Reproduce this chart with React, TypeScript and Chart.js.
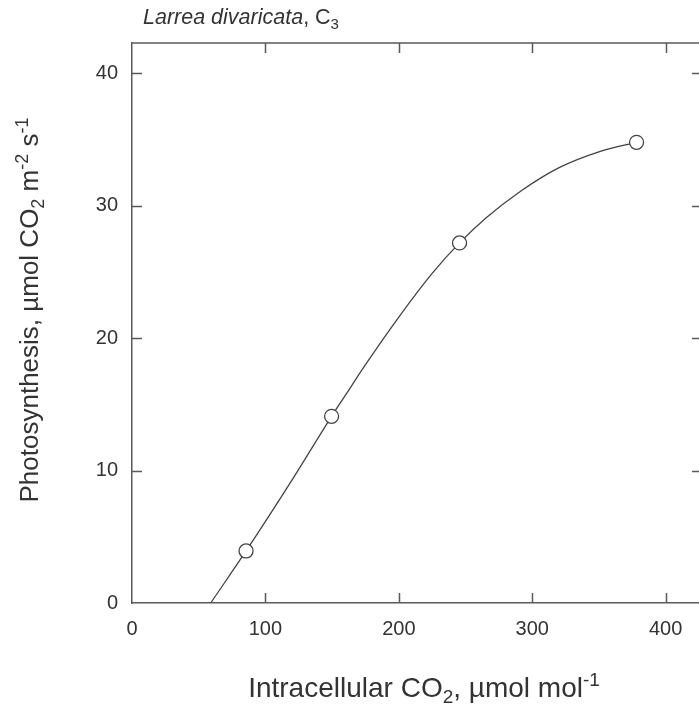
import React, { useEffect, useRef } from "react";
import { Chart, registerables } from "chart.js";

Chart.register(...registerables);

// Measured points (open circles)
const pointX = [85.5, 149.6, 245.5, 378.2];
const pointY = [3.93, 14.1, 27.2, 34.8];

// Fitted curve drawn through the data
const curveX = [59, 85.5, 120, 149.6, 160, 175, 200, 225, 245.5, 265.5, 290.5, 320.5, 350.5, 378.2];
const curveY = [0, 3.93, 9.3, 14.1, 15.7, 18.0, 21.6, 24.9, 27.2, 29.1, 31.05, 32.9, 34.1, 34.8];

const xTicks = [0, 100, 200, 300, 400];
const yTicks = [0, 10, 20, 30, 40];

const X_MIN = 0;
const X_MAX = 425;
const Y_MIN = 0;
const Y_MAX = 42.3;

const FONT = '"Liberation Sans", Arial, Helvetica, sans-serif';
const TEXT = "#333333";
const AXIS = "#5a5a5a";

type Seg = { t: string; m?: "sub" | "sup"; i?: boolean };

function segFont(s: Seg, size: number) {
  const sz = s.m ? Math.round(size * 0.68) : size;
  return `${s.i ? "italic " : ""}${sz}px ${FONT}`;
}

function drawRich(
  ctx: CanvasRenderingContext2D,
  segs: Seg[],
  x: number,
  y: number,
  size: number,
  align: "left" | "center",
  rotate = 0
) {
  ctx.save();
  ctx.translate(x, y);
  if (rotate) ctx.rotate(rotate);
  ctx.fillStyle = TEXT;
  ctx.textBaseline = "alphabetic";
  ctx.textAlign = "left";
  let total = 0;
  for (const s of segs) {
    ctx.font = segFont(s, size);
    total += ctx.measureText(s.t).width;
  }
  let cx = align === "center" ? -total / 2 : 0;
  for (const s of segs) {
    ctx.font = segFont(s, size);
    const dy = s.m === "sub" ? size * 0.22 : s.m === "sup" ? -size * 0.4 : 0;
    ctx.fillText(s.t, cx, dy);
    cx += ctx.measureText(s.t).width;
  }
  ctx.restore();
}

const framePlugin = {
  id: "framePlugin",
  afterDraw(chart: any) {
    const { ctx, chartArea } = chart;
    const xs = chart.scales.x;
    const ys = chart.scales.y;
    const { left, right, top, bottom } = chartArea;
    const tl = 10;
    ctx.save();
    ctx.strokeStyle = AXIS;
    ctx.lineWidth = 1.5;
    ctx.beginPath();
    // top border
    ctx.moveTo(left, top);
    ctx.lineTo(right + 2, top);
    // bottom/top ticks
    for (const v of xTicks) {
      if (v === X_MIN) continue;
      const px = Math.round(xs.getPixelForValue(v)) + 0.5;
      ctx.moveTo(px, bottom);
      ctx.lineTo(px, bottom - tl);
      ctx.moveTo(px, top);
      ctx.lineTo(px, top + tl);
    }
    // left/right ticks
    for (const v of yTicks) {
      if (v === Y_MIN) continue;
      const py = Math.round(ys.getPixelForValue(v)) + 0.5;
      ctx.moveTo(left, py);
      ctx.lineTo(left + tl, py);
      ctx.moveTo(right + 2, py);
      ctx.lineTo(right - 7, py);
    }
    ctx.stroke();
    ctx.restore();

    // Title
    drawRich(
      ctx,
      [
        { t: "Larrea divaricata", i: true },
        { t: ", C" },
        { t: "3", m: "sub" },
      ],
      143,
      24,
      21.5,
      "left"
    );
    // X axis title
    drawRich(
      ctx,
      [
        { t: "Intracellular CO" },
        { t: "2", m: "sub" },
        { t: ", \u00b5mol mol" },
        { t: "-1", m: "sup" },
      ],
      424,
      697,
      28,
      "center"
    );
    // Y axis title
    drawRich(
      ctx,
      [
        { t: "Photosynthesis, \u00b5mol CO" },
        { t: "2", m: "sub" },
        { t: " m" },
        { t: "-2", m: "sup" },
        { t: " s" },
        { t: "-1", m: "sup" },
      ],
      38,
      310,
      26,
      "center",
      -Math.PI / 2
    );
  },
};

export default function App() {
  const ref = useRef<HTMLCanvasElement | null>(null);

  useEffect(() => {
    document.body.style.margin = "0";
    const canvas = ref.current;
    if (!canvas) return;
    const chart = new Chart(canvas, {
      type: "scatter",
      data: {
        datasets: [
          {
            label: "points",
            data: pointX.map((x, i) => ({ x, y: pointY[i] })),
            showLine: false,
            pointRadius: 7,
            pointHoverRadius: 7,
            pointBackgroundColor: "#ffffff",
            pointBorderColor: "#444444",
            pointBorderWidth: 1.3,
            order: 0,
          },
          {
            label: "curve",
            data: curveX.map((x, i) => ({ x, y: curveY[i] })),
            showLine: true,
            cubicInterpolationMode: "monotone",
            borderColor: "#444444",
            borderWidth: 1.3,
            pointRadius: 0,
            pointHoverRadius: 0,
            fill: false,
            order: 1,
          } as any,
        ],
      },
      options: {
        animation: false,
        responsive: false,
        events: [],
        layout: {
          autoPadding: false,
          padding: { top: 43, left: 0, right: 0, bottom: 0 },
        },
        plugins: {
          legend: { display: false },
          title: { display: false },
          tooltip: { enabled: false },
        },
        scales: {
          x: {
            type: "linear",
            min: X_MIN,
            max: X_MAX,
            grid: { display: false },
            border: { display: true, color: AXIS, width: 1.5 },
            afterBuildTicks: (s: any) => {
              s.ticks = xTicks.map((v) => ({ value: v }));
            },
            afterFit: (s: any) => {
              s.height = 103;
              s.paddingLeft = 0;
              s.paddingRight = 0;
            },
            ticks: {
              color: TEXT,
              font: { family: FONT, size: 20 },
              padding: 6,
              maxRotation: 0,
              callback: (v: any) => String(v),
            },
          },
          y: {
            type: "linear",
            min: Y_MIN,
            max: Y_MAX,
            grid: { display: false },
            border: { display: true, color: AXIS, width: 1.5 },
            afterBuildTicks: (s: any) => {
              s.ticks = yTicks.map((v) => ({ value: v }));
            },
            afterFit: (s: any) => {
              s.width = 132;
              s.paddingTop = 0;
              s.paddingBottom = 0;
            },
            ticks: {
              color: TEXT,
              font: { family: FONT, size: 20 },
              padding: 6,
              callback: (v: any) => String(v),
            },
          },
        },
      },
      plugins: [framePlugin],
    });
    return () => chart.destroy();
  }, []);

  return (
    <canvas
      ref={ref}
      width={699}
      height={706}
      style={{ display: "block", width: 699, height: 706 }}
    />
  );
}
